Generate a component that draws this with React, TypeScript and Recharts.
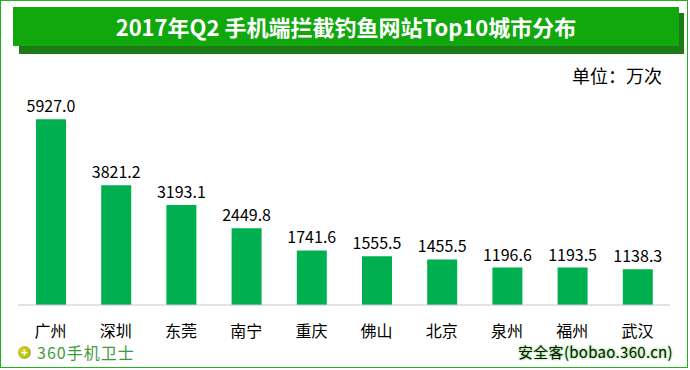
import React from 'react';
import { Bar, BarChart, LabelList, XAxis, YAxis } from 'recharts';

const cities = ['广州', '深圳', '东莞', '南宁', '重庆', '佛山', '北京', '泉州', '福州', '武汉'];
const counts = [5927.0, 3821.2, 3193.1, 2449.8, 1741.6, 1555.5, 1455.5, 1196.6, 1193.5, 1138.3];

const title = '2017年Q2 手机端拦截钓鱼网站Top10城市分布';
const unitLabel = '单位：万次';

const data = cities.map((name, i) => ({ name, value: counts[i] }));

const FONT = '"Noto Sans CJK SC", "Noto Sans", sans-serif';

export default function App() {
  return (
    <div style={{ position: 'absolute', left: 0, top: 0, width: 690, height: 370, background: '#fff', fontFamily: FONT }}>
      {/* outer border */}
      <div
        style={{
          position: 'absolute',
          left: 0,
          top: 0,
          width: 688,
          height: 368,
          border: '1.5px solid #22b322',
          boxSizing: 'border-box',
        }}
      />
      {/* title bar with shadow */}
      <div style={{ position: 'absolute', left: 19, top: 13, width: 665, height: 41, background: '#1d7a17' }} />
      <div
        style={{
          position: 'absolute',
          left: 13,
          top: 7,
          width: 666,
          height: 39,
          background: '#10a80d',
          color: '#fff',
          fontWeight: 'bold',
          fontSize: 22,
          lineHeight: '39px',
          textAlign: 'center',
        }}
      >
        {title}
      </div>
      <div style={{ position: 'absolute', left: 520, width: 142, top: 62, textAlign: 'right', fontSize: 18, lineHeight: '26px', color: '#000' }}>
        {unitLabel}
      </div>

      <div style={{ position: 'absolute', left: 0, top: 0 }}>
        <BarChart width={690} height={370} data={data} margin={{ top: 117, right: 20, bottom: 0, left: 18 }}>
          <XAxis
            dataKey="name"
            height={65}
            axisLine={{ stroke: '#c8c8c8', strokeWidth: 1 }}
            tickLine={false}
            tickMargin={15}
            tick={{ fill: '#000', fontSize: 16, fontFamily: FONT }}
            interval={0}
          />
          <YAxis hide domain={[0, 6000]} />
          <Bar dataKey="value" fill="#00b050" barSize={30} isAnimationActive={false}>
            <LabelList
              dataKey="value"
              position="top"
              offset={7}
              fill="#000"
              fontSize={16}
              fontFamily={FONT}
              formatter={(v: number) => v.toFixed(1)}
            />
          </Bar>
        </BarChart>
      </div>

      {/* footer logos */}
      <div style={{ position: 'absolute', left: 18, top: 344, display: 'flex', alignItems: 'center' }}>
        <div
          style={{
            width: 13,
            height: 13,
            borderRadius: '50%',
            background: 'radial-gradient(circle at 40% 40%, #f3d21a, #7bb320)',
            color: '#fff',
            fontSize: 11,
            lineHeight: '13px',
            textAlign: 'center',
            fontWeight: 'bold',
            marginRight: 6,
          }}
        >
          +
        </div>
        <span style={{ color: '#3f9b3a', fontSize: 16, lineHeight: '17px', letterSpacing: 1 }}>360手机卫士</span>
      </div>
      <div
        style={{
          position: 'absolute',
          left: 518,
          top: 342,
          fontSize: 15,
          lineHeight: '20px',
          letterSpacing: 0.3,
          color: '#111',
          textShadow: '0 0 2px #7fdc6a, 0 0 3px #9be88a',
        }}
      >
        安全客(bobao.360.cn)
      </div>
    </div>
  );
}
